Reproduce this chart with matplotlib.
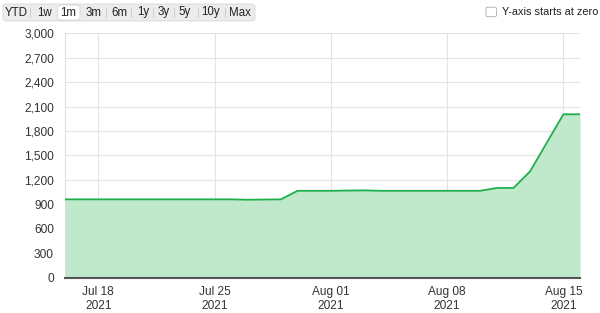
import matplotlib
matplotlib.use("Agg")
import matplotlib.pyplot as plt
import matplotlib.dates as mdates
from matplotlib.patches import FancyBboxPatch
import numpy as np
import datetime as dt

plt.rcParams['font.family'] = ['Liberation Sans', 'DejaVu Sans']

# ---- data ----
start_date = "2021-07-16"
values = [960, 960, 960, 960, 960, 960, 960, 960, 960, 960, 960,   # Jul 16-26
          955, 958, 960,                                        # Jul 27-29
          1065, 1065, 1065, 1068, 1070, 1065, 1065, 1065, 1065,  # Jul 30 - Aug 7
          1065, 1065, 1065,                                     # Aug 8-10
          1100, 1100, 1305, 1655, 2005, 2005]                   # Aug 11-16
tick_dates = ["2021-07-18", "2021-07-25", "2021-08-01", "2021-08-08", "2021-08-15"]
tick_labels = ["Jul 18\n2021", "Jul 25\n2021", "Aug 01\n2021", "Aug 08\n2021", "Aug 15\n2021"]
y_ticks = [0, 300, 600, 900, 1200, 1500, 1800, 2100, 2400, 2700, 3000]
range_buttons = ["YTD", "1w", "1m", "3m", "6m", "1y", "3y", "5y", "10y", "Max"]
active_button = "1m"

dates = np.arange(np.datetime64(start_date), np.datetime64(start_date) + len(values), dtype='datetime64[D]')
xd = mdates.date2num(dates.astype('datetime64[s]').astype(dt.datetime))
xt = [mdates.date2num(dt.datetime.fromisoformat(d)) for d in tick_dates]

W, H = 600, 313
fig = plt.figure(figsize=(W / 100, H / 100), dpi=100)
ax = fig.add_axes([65 / W, (H - 277.5) / H, (580 - 65) / W, (277.5 - 33.3) / H])

line_c = "#1fae4c"
fill_c = "#c0e9cc"
ax.fill_between(xd, 0, values, color=fill_c, linewidth=0, zorder=2)
ax.plot(xd, values, color=line_c, linewidth=1.3, zorder=3)

ax.set_xlim(xd[0], xd[-1])
ax.set_ylim(0, 3000)
ax.set_yticks(y_ticks)
ax.set_yticklabels([f"{v:,}" for v in y_ticks])
ax.set_xticks(xt)
ax.set_xticklabels(tick_labels, linespacing=1.2)
ax.tick_params(axis='both', length=0, labelsize=8.6, colors="#333333")
ax.tick_params(axis='y', pad=8)
ax.tick_params(axis='x', pad=6)
ax.grid(True, color="#e4e4e4", linewidth=0.8, zorder=1)
ax.set_axisbelow(True)
for s in ["top", "right"]:
    ax.spines[s].set_visible(False)
ax.spines["left"].set_color("#dddddd")
ax.spines["left"].set_linewidth(0.8)
ax.spines["bottom"].set_color("#555555")
ax.spines["bottom"].set_linewidth(1.5)
ax.spines["bottom"].set_zorder(4)

# ---- range selector ----
def fx(x): return x / W
def fy(y): return (H - y) / H

box = FancyBboxPatch((fx(3), fy(21)), fx(252), 17 / H,
                     boxstyle="round,pad=0,rounding_size=0.008",
                     transform=fig.transFigure, facecolor="#ececec",
                     edgecolor="#d8d8d8", linewidth=0.6)
fig.patches.append(box)
centers = [16, 44.3, 68.5, 93.3, 119, 143.3, 163.3, 185, 210, 240]
act = FancyBboxPatch((fx(57.5), fy(20)), fx(22.5), 15 / H,
                     boxstyle="round,pad=0,rounding_size=0.008",
                     transform=fig.transFigure, facecolor="white",
                     edgecolor="#cfcfcf", linewidth=0.5)
fig.patches.append(act)
for i, (lab, cx) in enumerate(zip(range_buttons, centers)):
    fig.text(fx(cx), fy(12.5), lab, ha="center", va="center", fontsize=8.3, color="#222222")
    if i < len(centers) - 1:
        sx = (cx + centers[i + 1]) / 2
        if lab != active_button and range_buttons[i + 1] != active_button:
            fig.add_artist(plt.Line2D([fx(sx), fx(sx)], [fy(8), fy(17)], transform=fig.transFigure,
                                      color="#c8c8c8", linewidth=0.6))

# ---- checkbox ----
cb = FancyBboxPatch((fx(486), fy(16.7)), fx(10.5), 9.5 / H,
                    boxstyle="round,pad=0,rounding_size=0.004",
                    transform=fig.transFigure, facecolor="white",
                    edgecolor="#aaaaaa", linewidth=0.6)
fig.patches.append(cb)
fig.text(fx(502), fy(12), "Y-axis starts at zero", ha="left", va="center", fontsize=7.9, color="#222222")

fig.savefig("out.png", dpi=100)
